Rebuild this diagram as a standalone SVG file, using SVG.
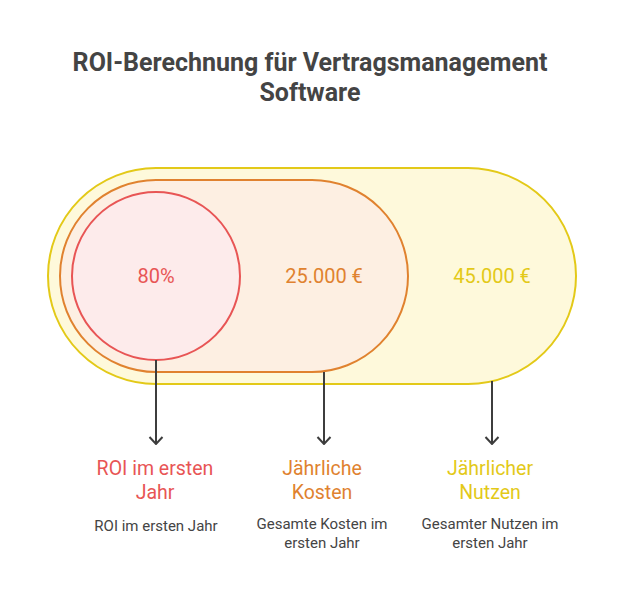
<svg xmlns="http://www.w3.org/2000/svg" width="624" height="600" viewBox="0 0 624 600">
<defs>
<style>
.title{font-family:Roboto,"Liberation Sans",sans-serif;font-weight:700;font-size:25px;fill:#444444;text-anchor:middle}
.val{font-family:Roboto,"Liberation Sans",sans-serif;font-size:20px;text-anchor:middle}
.lab{font-family:Roboto,"Liberation Sans",sans-serif;font-size:19.5px;text-anchor:middle}
.desc{font-family:Roboto,"Liberation Sans",sans-serif;font-size:15px;fill:#444444;text-anchor:middle}
.conn{stroke:#3d3d3d;stroke-width:2;fill:none}
</style>
<marker id="arr" viewBox="0 -8 10 16" refX="9" refY="0" markerWidth="10" markerHeight="16" markerUnits="userSpaceOnUse" orient="auto">
<path d="M2 -6.5 L9 0 L2 6.5" fill="none" stroke="#3d3d3d" stroke-width="2"/>
</marker>
</defs>
<rect width="624" height="600" fill="#ffffff"/>
<text class="title" x="310" y="71">ROI-Berechnung für Vertragsmanagement</text>
<text class="title" x="310" y="101">Software</text>

<g id="nutzen">
<rect x="48" y="168" width="528" height="216" rx="108" ry="108" fill="#FEF9DB" stroke="#E3C918" stroke-width="2"/>
<text class="val" x="492" y="283" fill="#E3C918">45.000 €</text>
</g>
<g id="kosten">
<rect x="60" y="180" width="348" height="192" rx="96" ry="96" fill="#FDEFE2" stroke="#E0822F" stroke-width="2"/>
<text class="val" x="324" y="283" fill="#E0822F">25.000 €</text>
</g>
<g id="roi">
<circle cx="156" cy="276" r="84" fill="#FDEBEB" stroke="#E85555" stroke-width="2"/>
<text class="val" x="156" y="283" fill="#E85555">80%</text>
</g>

<g id="connectors">
<path class="conn" d="M156 360 V444" marker-end="url(#arr)"/>
<path class="conn" d="M324 372 V444" marker-end="url(#arr)"/>
<path class="conn" d="M492 381 V444" marker-end="url(#arr)"/>
</g>

<g id="label-roi">
<text class="lab" x="155" y="475" fill="#E85555">ROI im ersten</text>
<text class="lab" x="155" y="499" fill="#E85555">Jahr</text>
<text class="desc" x="156" y="531">ROI im ersten Jahr</text>
</g>
<g id="label-kosten">
<text class="lab" x="322" y="475" fill="#E0822F">Jährliche</text>
<text class="lab" x="322" y="499" fill="#E0822F">Kosten</text>
<text class="desc" x="322" y="529">Gesamte Kosten im</text>
<text class="desc" x="322" y="548">ersten Jahr</text>
</g>
<g id="label-nutzen">
<text class="lab" x="490" y="475" fill="#E3C918">Jährlicher</text>
<text class="lab" x="490" y="499" fill="#E3C918">Nutzen</text>
<text class="desc" x="490" y="529">Gesamter Nutzen im</text>
<text class="desc" x="490" y="548">ersten Jahr</text>
</g>
</svg>
